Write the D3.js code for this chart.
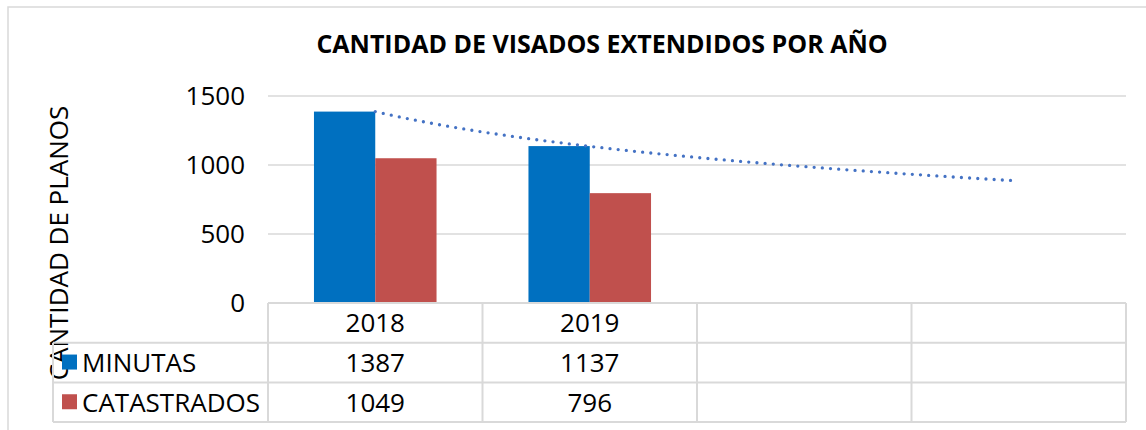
<!DOCTYPE html>
<html>
<head>
<meta charset="utf-8">
<script src="https://cdn.jsdelivr.net/npm/d3@7"></script>
<style>
    body { margin: 0; background: #fff; }
    text { font-family: "Open Sans", "Noto Sans", sans-serif; fill: #000; }
</style>
</head>
<body>
<div id="chart"></div>
<script>
// Data
var categories = ["2018", "2019"];
var seriesNames = ["MINUTAS", "CATASTRADOS"];
var minutas = [1387, 1137];
var catastrados = [1049, 796];
var yTicks = [0, 500, 1000, 1500];
var forecastPeriods = 2; // trendline forecast forward

var colors = ["#0070C0", "#C0504D"];
var gridColor = "#D9D9D9";

var svgWidth = 1146;
var svgHeight = 430;

var margin = { top: 96, left: 268, right: 20 };
var plotBottom = 303;
var tableRight = 1126;
var rowH = 39.7;
var fontSize = "26px";

var svg = d3.select("#chart")
    .append("svg")
    .attr("width", svgWidth)
    .attr("height", svgHeight);

// outer chart border (only top/left visible)
svg.append("path")
    .attr("d", `M8,${svgHeight} V7 H${svgWidth}`)
    .attr("fill", "none")
    .attr("stroke", gridColor)
    .attr("stroke-width", 1.5);

// Title
svg.append("text")
    .attr("x", 602)
    .attr("y", 53)
    .attr("text-anchor", "middle")
    .style("font-size", "25px")
    .style("font-weight", "bold")
    .text("CANTIDAD DE VISADOS EXTENDIDOS POR AÑO");

// Scales
var nCols = categories.length + forecastPeriods;
var xScale = d3.scaleBand()
    .domain(d3.range(nCols))
    .range([margin.left, tableRight])
    .padding(0);

var step = xScale.step();
var gap = step * 1.5 / 3.5;
var xInner = d3.scaleBand()
    .domain(seriesNames)
    .range([gap / 2, step - gap / 2]);

var yScale = d3.scaleLinear()
    .domain([0, 1500])
    .range([plotBottom, margin.top]);

// Gridlines
svg.append("g")
    .selectAll("line")
    .data(yTicks.filter(d => d > 0))
    .enter()
    .append("line")
    .attr("x1", margin.left)
    .attr("x2", tableRight)
    .attr("y1", d => yScale(d))
    .attr("y2", d => yScale(d))
    .attr("stroke", gridColor)
    .attr("stroke-width", 1.5);

// Y axis tick labels
var leftAxis = d3.axisLeft(yScale)
    .tickValues(yTicks)
    .tickFormat(d3.format("d"))
    .tickSize(0)
    .tickPadding(0);
var yAxis = svg.append("g")
    .attr("transform", "translate(245,0)")
    .call(leftAxis);
yAxis.select(".domain").remove();
yAxis.selectAll("text")
    .style("font-size", fontSize)
    .style("font-family", "'Open Sans', 'Noto Sans', sans-serif")
    .attr("fill", "#000");

// Y axis title
svg.append("text")
    .attr("transform", "translate(68,243) rotate(-90)")
    .attr("text-anchor", "middle")
    .style("font-size", "26px")
    .text("CANTIDAD DE PLANOS");

// Bars
var seriesData = [minutas, catastrados];
seriesData.forEach(function (values, si) {
    svg.append("g")
        .selectAll("rect")
        .data(values)
        .enter()
        .append("rect")
        .attr("x", (d, i) => xScale(i) + xInner(seriesNames[si]))
        .attr("y", d => yScale(d))
        .attr("width", xInner.bandwidth())
        .attr("height", d => plotBottom - yScale(d))
        .attr("fill", colors[si]);
});

// Logarithmic trendline for MINUTAS (least squares on ln x)
var xs = minutas.map((d, i) => Math.log(i + 1));
var mx = d3.mean(xs), my = d3.mean(minutas);
var b = d3.sum(xs, (d, i) => (d - mx) * (minutas[i] - my)) / d3.sum(xs, d => (d - mx) * (d - mx));
var a = my - b * mx;
var trendX = d3.scaleLinear().domain([1, nCols]).range([xScale(0) + step / 2, xScale(nCols - 1) + step / 2 - 6]);
var trendPts = d3.range(1, nCols + 0.001, 0.05).map(t => [trendX(t), yScale(a + b * Math.log(t))]);

svg.append("path")
    .attr("d", d3.line()(trendPts))
    .attr("fill", "none")
    .attr("stroke", "#4472C4")
    .attr("stroke-width", 3.3)
    .attr("stroke-linecap", "round")
    .attr("stroke-dasharray", "0 8.2");

// Data table
var table = svg.append("g");
var rowsY = [plotBottom, plotBottom + rowH, plotBottom + rowH * 2, plotBottom + rowH * 3];
var legendLeft = 53;

// horizontal lines
table.append("line")
    .attr("x1", margin.left).attr("x2", tableRight)
    .attr("y1", rowsY[0]).attr("y2", rowsY[0]);
rowsY.slice(1).forEach(function (y) {
    table.append("line")
        .attr("x1", legendLeft).attr("x2", tableRight)
        .attr("y1", y).attr("y2", y);
});
// vertical lines
d3.range(nCols + 1).forEach(function (i) {
    var x = margin.left + i * step;
    table.append("line")
        .attr("x1", x).attr("x2", x)
        .attr("y1", rowsY[0]).attr("y2", rowsY[3]);
});
table.append("line")
    .attr("x1", legendLeft).attr("x2", legendLeft)
    .attr("y1", rowsY[1]).attr("y2", rowsY[3]);
table.selectAll("line")
    .attr("stroke", gridColor)
    .attr("stroke-width", 2);

// header: categories
table.selectAll("text.cat")
    .data(categories)
    .enter()
    .append("text")
    .classed("cat", true)
    .attr("x", (d, i) => xScale(i) + step / 2)
    .attr("y", (rowsY[0] + rowsY[1]) / 2)
    .attr("dy", "0.36em")
    .attr("text-anchor", "middle")
    .style("font-size", fontSize)
    .text(d => d);

// rows: series values + legend
seriesData.forEach(function (values, si) {
    var cy = (rowsY[si + 1] + rowsY[si + 2]) / 2;
    table.append("rect")
        .attr("x", 62)
        .attr("y", cy - 8)
        .attr("width", 15)
        .attr("height", 15)
        .attr("fill", colors[si]);
    table.append("text")
        .attr("x", 82)
        .attr("y", cy)
        .attr("dy", "0.36em")
        .style("font-size", fontSize)
        .text(seriesNames[si]);
    table.selectAll("text.v" + si)
        .data(values)
        .enter()
        .append("text")
        .classed("v" + si, true)
        .attr("x", (d, i) => xScale(i) + step / 2)
        .attr("y", cy)
        .attr("dy", "0.36em")
        .attr("text-anchor", "middle")
        .style("font-size", fontSize)
        .text(d => d);
});
</script>
</body>
</html>
